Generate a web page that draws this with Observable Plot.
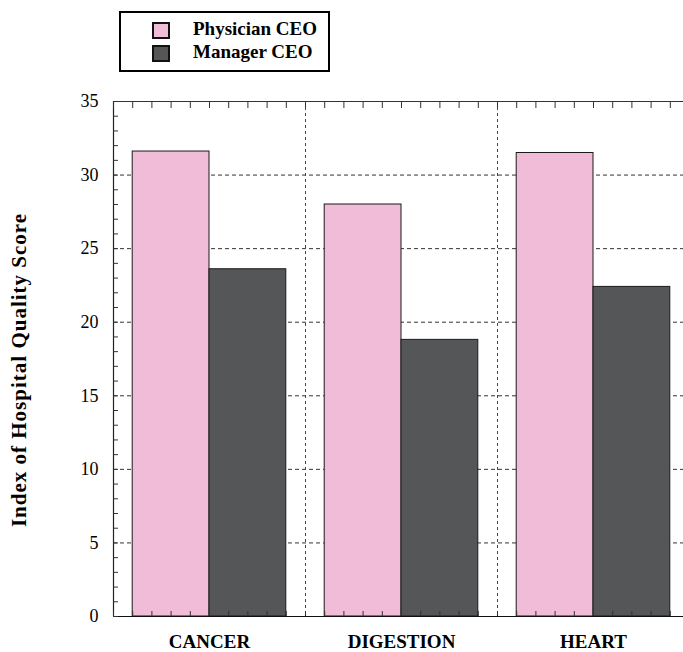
<!DOCTYPE html>
<html><head><meta charset="utf-8">
<script src="https://cdn.jsdelivr.net/npm/d3@7"></script>
<script src="https://cdn.jsdelivr.net/npm/@observablehq/plot@0.6"></script>
<style>
html,body{margin:0;padding:0;background:#fff;overflow:hidden;}
body{font-family:"Liberation Serif","Times New Roman",serif;width:683px;height:652px;}
#legend{position:relative;height:85px;width:683px;}
#legend .box{position:absolute;left:119px;top:11px;width:207px;height:57px;border:2px solid #000;box-sizing:content-box;}
#legend .row{position:absolute;left:31px;height:19px;white-space:nowrap;}
#legend .sw{position:absolute;left:0;top:0;width:14px;height:13px;border:2px solid #111;}
#legend .lab{position:absolute;left:41px;top:-3px;font-weight:bold;font-size:19px;line-height:19px;color:#000;}
.ytitle text{letter-spacing:1px;}
</style>
</head><body>
<div id="legend"></div>
<div id="chart"></div>
<script>
const categories = ["CANCER", "DIGESTION", "HEART"];
const series = ["Physician CEO", "Manager CEO"];
const physician = [31.6, 28.0, 31.5];
const manager = [23.6, 18.8, 22.4];
const yTicks = [0, 5, 10, 15, 20, 25, 30, 35];
const colors = ["#f0bcd8", "#555657"];

// legend
const box = document.createElement("div");
box.className = "box";
series.forEach((s, j) => {
  const row = document.createElement("div");
  row.className = "row";
  row.style.top = (9 + j * 23) + "px";
  const sw = document.createElement("div");
  sw.className = "sw";
  sw.style.background = colors[j];
  const lab = document.createElement("div");
  lab.className = "lab";
  lab.textContent = s;
  row.appendChild(sw); row.appendChild(lab);
  box.appendChild(row);
});
document.getElementById("legend").appendChild(box);

const values = [physician, manager];
const rows = categories.flatMap((c, i) => series.map((s, j) => ({cat: c, i, j, s, v: values[j][i]})));

const pad = 0.1, bw = 0.4;
const minorX = d3.range(31).map(k => k / 10);
const minorY = d3.range(36);
const centers = categories.map((c, i) => i + 0.5);

const chart = Plot.plot({
  width: 683, height: 567,
  marginTop: 16, marginBottom: 36, marginLeft: 113, marginRight: 0,
  style: {fontFamily: "Liberation Serif, Times New Roman, serif", background: "#fff", color: "#000", overflow: "hidden"},
  x: {type: "linear", domain: [0, categories.length], range: [113, 689]},
  y: {domain: [0, 35]},
  color: {domain: series, range: colors},
  marks: [
    Plot.ruleY(yTicks.filter(t => t > 0 && t < 35), {stroke: "#333", strokeDasharray: "4,3", strokeWidth: 1}),
    Plot.ruleX(d3.range(1, categories.length), {stroke: "#444", strokeDasharray: "3,3", strokeWidth: 1}),
    Plot.rectY(rows, {
      x1: d => d.i + pad + bw * d.j,
      x2: d => d.i + pad + bw * (d.j + 1),
      y1: 0, y2: "v", fill: "s", stroke: "#1a1a1a", strokeWidth: 1
    }),
    Plot.ruleY([35], {stroke: "#333", strokeWidth: 1.2}),
    Plot.ruleX([0], {stroke: "#222", strokeWidth: 1.2}),
    Plot.ruleY([0], {stroke: "#111", strokeWidth: 1.2}),
    Plot.axisY(minorY, {tickSize: -5, tickFormat: () => "", stroke: "#333", label: null}),
    Plot.axisY(yTicks, {tickSize: 0, tickPadding: 15, fontSize: 18, label: null}),
    Plot.axisX(minorX, {anchor: "top", tickSize: -6, tickFormat: () => "", stroke: "#333", label: null}),
    Plot.axisX(minorX, {anchor: "bottom", tickSize: -5, tickFormat: () => "", stroke: "#333", label: null}),
    Plot.axisX(centers, {anchor: "bottom", tickSize: 0, tickPadding: 18, fontSize: 19, fontWeight: "bold",
      tickFormat: d => categories[Math.floor(d)], label: null}),
    Plot.text(["Index of Hospital Quality Score"], {frameAnchor: "left", textAnchor: "middle", rotate: -90, dx: -94, dy: 11,
      fontSize: 21, fontWeight: "bold", fill: "#000", className: "ytitle"})
  ]
});
document.getElementById("chart").appendChild(chart);
</script>
</body></html>
